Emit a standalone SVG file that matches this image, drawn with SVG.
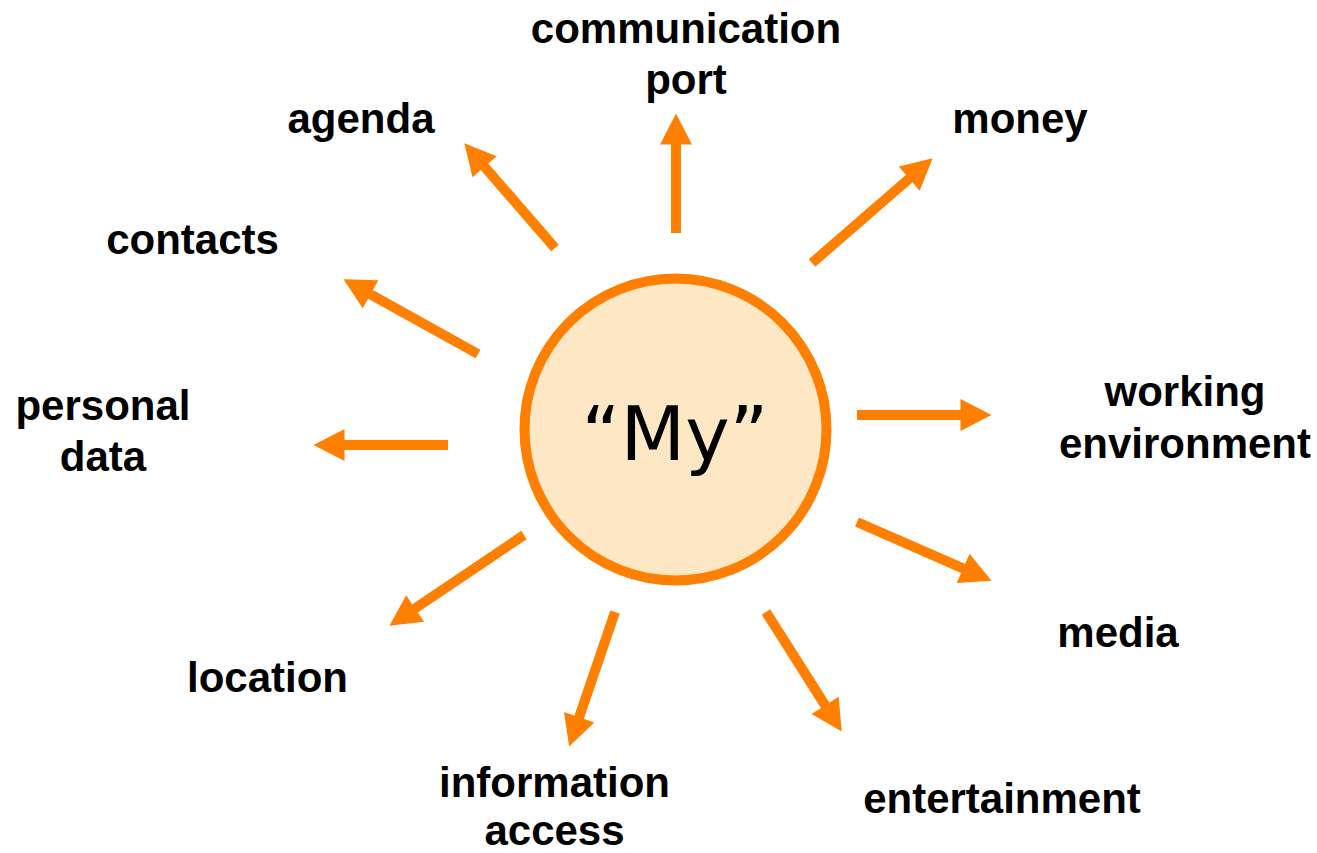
<svg xmlns="http://www.w3.org/2000/svg" width="1317" height="853" viewBox="0 0 1317 853">
<style>
.lbl{font-family:"Liberation Sans",Arial,sans-serif;font-weight:bold;font-size:42px;fill:#000;text-anchor:middle}
.arr{stroke:#FF8000;stroke-width:10;fill:none;marker-end:url(#head)}
</style>
<defs>
<marker id="head" markerUnits="userSpaceOnUse" markerWidth="31" markerHeight="32" viewBox="0 0 31 32" refX="0.5" refY="16" orient="auto" overflow="visible">
<path d="M0,0 L31,16 L0,32 z" fill="#FF8000"/>
</marker>
</defs>
<rect width="1317" height="853" fill="#fff"/>
<g id="connectors">
<line class="arr" x1="676" y1="233" x2="676" y2="144"/>
<line class="arr" x1="555" y1="248" x2="484.3" y2="166.4"/>
<line class="arr" x1="478" y1="354" x2="370.1" y2="294.1"/>
<line class="arr" x1="448" y1="445" x2="344" y2="445"/>
<line class="arr" x1="812" y1="263" x2="909.6" y2="178.3"/>
<line class="arr" x1="857" y1="415" x2="961" y2="415"/>
<line class="arr" x1="857" y1="522" x2="963.6" y2="568.6"/>
<line class="arr" x1="766" y1="612" x2="825.4" y2="705.8"/>
<line class="arr" x1="615" y1="612" x2="579" y2="717.7"/>
<line class="arr" x1="524" y1="535" x2="414.7" y2="608.7"/>
</g>
<g id="center">
<circle cx="675.5" cy="429.5" r="151" fill="#FDE7C4" stroke="#FF8000" stroke-width="10"/>
<text x="675" y="460" font-family="DejaVu Sans, Verdana, sans-serif" font-size="75" text-anchor="middle" fill="#000">“My”</text>
</g>
<g id="communication-port"><text class="lbl" x="686" y="43">communication</text><text class="lbl" x="686" y="94">port</text></g>
<g id="agenda"><text class="lbl" x="361" y="133">agenda</text></g>
<g id="money"><text class="lbl" x="1020" y="133">money</text></g>
<g id="contacts"><text class="lbl" x="192.5" y="254">contacts</text></g>
<g id="personal-data"><text class="lbl" x="103" y="420">personal</text><text class="lbl" x="103" y="471">data</text></g>
<g id="working-environment"><text class="lbl" x="1185" y="406">working</text><text class="lbl" x="1185" y="458">environment</text></g>
<g id="media"><text class="lbl" x="1118" y="647">media</text></g>
<g id="location"><text class="lbl" x="267.5" y="692">location</text></g>
<g id="information-access"><text class="lbl" x="554.5" y="797">information</text><text class="lbl" x="554.5" y="845">access</text></g>
<g id="entertainment"><text class="lbl" x="1002" y="813">entertainment</text></g>
</svg>
